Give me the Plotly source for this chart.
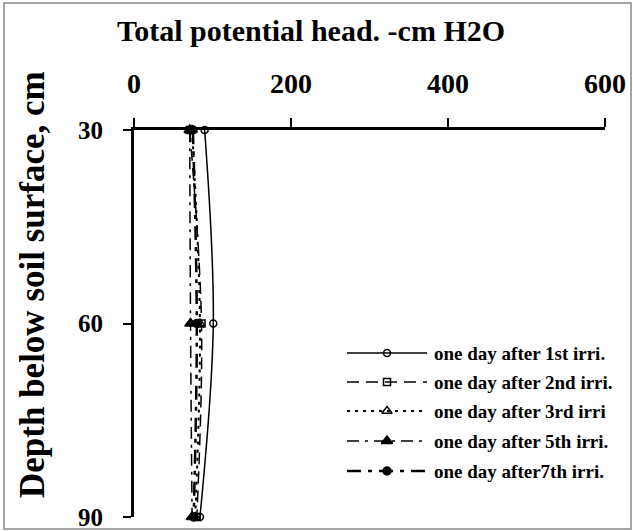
import plotly.graph_objects as go

depth = [30, 60, 90]
series_names = [
    "one day after 1st irri.",
    "one day after 2nd irri.",
    "one day after 3rd irri",
    "one day after 5th irri.",
    "one day after7th irri.",
]
head_1st = [90, 101, 84]
head_2nd = [71, 86, 80]
head_3rd = [74, 84, 78]
head_5th = [71, 72, 74]
head_7th = [75, 80, 76]
x_ticks = [0, 200, 400, 600]
y_ticks = [30, 60, 90]

values = [head_1st, head_2nd, head_3rd, head_5th, head_7th]
dashes = ["solid", "12px,7px", "3px,5px", "12px,6px,3px,6px", "14px,7px,4px,7px"]
widths = [1.5, 1.5, 2, 1.5, 2.5]
symbols = ["circle-open", "square-open", "triangle-up-open", "triangle-up", "circle"]
msizes = [7, 7, 9, 10, 8]

W, H = 633, 531
L, R, T, B = 134, 28, 130, 14
pw, ph = W - L - R, H - T - B
FONT = "Liberation Serif"


def px_x(p):
    return (p - L) / pw


def px_y(p):
    return 1 - (p - T) / ph


fig = go.Figure()
for name, v, d, w, s, ms in zip(series_names, values, dashes, widths, symbols, msizes):
    fig.add_trace(go.Scatter(
        x=v, y=depth, mode="lines+markers", name=name, showlegend=False,
        line=dict(color="black", dash=d, width=w, shape="spline", smoothing=1),
        marker=dict(symbol=s, size=ms, color="black", line=dict(color="black", width=1.5)),
        cliponaxis=False,
    ))

# custom legend drawn on an overlay axis measured in pixels
leg_y = [353, 382, 411, 441, 471]
for name, d, w, s, ms, ly in zip(series_names, dashes, widths, symbols, msizes, leg_y):
    fig.add_trace(go.Scatter(
        x=[347, 427], y=[ly, ly], mode="lines", xaxis="x2", yaxis="y2",
        line=dict(color="black", dash=d, width=w), showlegend=False, hoverinfo="skip",
    ))
    fig.add_trace(go.Scatter(
        x=[387], y=[ly], mode="markers", xaxis="x2", yaxis="y2",
        marker=dict(symbol=s, size=ms, color="black", line=dict(color="black", width=1.5)),
        showlegend=False, hoverinfo="skip",
    ))
    fig.add_annotation(
        x=px_x(432), y=px_y(ly), xref="paper", yref="paper", text="<b>" + name + "</b>",
        showarrow=False, xanchor="left", yanchor="middle",
        font=dict(family=FONT, size=19, color="black"),
    )

fig.update_layout(
    width=W, height=H,
    margin=dict(l=L, r=R, t=T, b=B, autoexpand=False),
    plot_bgcolor="white", paper_bgcolor="white",
    xaxis=dict(
        side="top", range=[0, 600], tickvals=x_ticks,
        ticktext=["<b>%d</b>" % t for t in x_ticks],
        showgrid=False, zeroline=False, showline=True, linecolor="black", linewidth=3,
        ticks="outside", ticklen=9, tickwidth=2, tickcolor="black",
        tickfont=dict(family=FONT, size=28, color="black"), ticklabelstandoff=14,
        automargin=False, ticklabeloverflow="allow",
    ),
    yaxis=dict(
        range=[90, 30], tickvals=y_ticks,
        ticktext=["<b>%d</b>" % t for t in y_ticks],
        showgrid=False, zeroline=False, showline=True, linecolor="black", linewidth=3,
        ticks="outside", ticklen=8, tickwidth=2, tickcolor="black",
        tickfont=dict(family=FONT, size=25, color="black"), ticklabelstandoff=15,
        automargin=False, ticklabeloverflow="allow",
    ),
    xaxis2=dict(range=[L, L + pw], overlaying="x", visible=False, anchor="y2", automargin=False),
    yaxis2=dict(range=[T + ph, T], overlaying="y", visible=False, anchor="x2", automargin=False),
    showlegend=False,
)

fig.add_annotation(
    x=px_x(32), y=px_y(285), xref="paper", yref="paper",
    text="<b>Depth below soil surface, cm</b>", textangle=-90,
    showarrow=False, xanchor="center", yanchor="middle",
    font=dict(family=FONT, size=35, color="black"),
)
fig.add_annotation(
    x=px_x(311), y=px_y(30), xref="paper", yref="paper",
    text="<b>Total potential head. -cm H2O</b>",
    showarrow=False, xanchor="center", yanchor="middle",
    font=dict(family=FONT, size=30, color="black"),
)
fig.add_shape(type="rect", xref="paper", yref="paper",
              x0=px_x(4), x1=px_x(631), y0=px_y(529), y1=px_y(3),
              line=dict(color="#888888", width=1.5), fillcolor="rgba(0,0,0,0)", layer="below")

fig.write_html("out.html", config={"displayModeBar": False},
               post_script="document.body.style.margin='0';document.body.style.overflow='hidden';")
